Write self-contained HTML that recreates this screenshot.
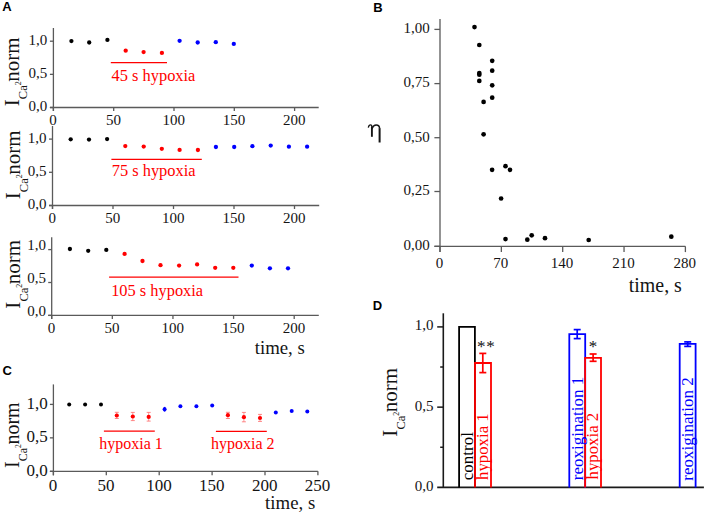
<!DOCTYPE html><html><head><meta charset="utf-8"><style>html,body{margin:0;padding:0;background:#fff;overflow:hidden}svg{display:block;}</style></head><body>
<svg width="708" height="517" viewBox="0 0 708 517" font-family="Liberation Serif, serif">
<rect width="708" height="517" fill="#fff"/>
<text x="2.2" y="11.4" font-family="Liberation Sans, sans-serif" font-weight="bold" font-size="13" fill="#000">A</text>
<text x="373.2" y="11.5" font-family="Liberation Sans, sans-serif" font-weight="bold" font-size="13" fill="#000">B</text>
<text x="2.6" y="374.6" font-family="Liberation Sans, sans-serif" font-weight="bold" font-size="13" fill="#000">C</text>
<text x="372.7" y="310.4" font-family="Liberation Sans, sans-serif" font-weight="bold" font-size="13" fill="#000">D</text>
<line x1="53.4" y1="28" x2="53.4" y2="111" stroke="#5a5a5a" stroke-width="1.3"/>
<line x1="49.9" y1="107.5" x2="318.7" y2="107.5" stroke="#5a5a5a" stroke-width="1.3"/>
<line x1="49.9" y1="107.5" x2="53.4" y2="107.5" stroke="#5a5a5a" stroke-width="1.3"/>
<text x="47.2" y="110.9" font-size="15" text-anchor="end" fill="#141414" >0,0</text>
<line x1="49.9" y1="74.35" x2="53.4" y2="74.35" stroke="#5a5a5a" stroke-width="1.3"/>
<text x="47.2" y="77.75" font-size="15" text-anchor="end" fill="#141414" >0,5</text>
<line x1="49.9" y1="41.2" x2="53.4" y2="41.2" stroke="#5a5a5a" stroke-width="1.3"/>
<text x="47.2" y="44.6" font-size="15" text-anchor="end" fill="#141414" >1,0</text>
<line x1="53.4" y1="107.5" x2="53.4" y2="111" stroke="#5a5a5a" stroke-width="1.3"/>
<text x="53.1" y="125.4" font-size="15" text-anchor="middle" fill="#141414" >0</text>
<line x1="113.7" y1="107.5" x2="113.7" y2="111" stroke="#5a5a5a" stroke-width="1.3"/>
<text x="113.4" y="125.4" font-size="15" text-anchor="middle" fill="#141414" >50</text>
<line x1="174" y1="107.5" x2="174" y2="111" stroke="#5a5a5a" stroke-width="1.3"/>
<text x="173.7" y="125.4" font-size="15" text-anchor="middle" fill="#141414" >100</text>
<line x1="234.3" y1="107.5" x2="234.3" y2="111" stroke="#5a5a5a" stroke-width="1.3"/>
<text x="234" y="125.4" font-size="15" text-anchor="middle" fill="#141414" >150</text>
<line x1="294.6" y1="107.5" x2="294.6" y2="111" stroke="#5a5a5a" stroke-width="1.3"/>
<text x="294.3" y="125.4" font-size="15" text-anchor="middle" fill="#141414" >200</text>
<line x1="52.5" y1="126" x2="52.5" y2="209" stroke="#5a5a5a" stroke-width="1.3"/>
<line x1="49" y1="205.5" x2="319.2" y2="205.5" stroke="#5a5a5a" stroke-width="1.3"/>
<line x1="49" y1="205.5" x2="52.5" y2="205.5" stroke="#5a5a5a" stroke-width="1.3"/>
<text x="46.4" y="208.9" font-size="15" text-anchor="end" fill="#141414" >0,0</text>
<line x1="49" y1="172.3" x2="52.5" y2="172.3" stroke="#5a5a5a" stroke-width="1.3"/>
<text x="46.4" y="175.7" font-size="15" text-anchor="end" fill="#141414" >0,5</text>
<line x1="49" y1="139.1" x2="52.5" y2="139.1" stroke="#5a5a5a" stroke-width="1.3"/>
<text x="46.4" y="142.5" font-size="15" text-anchor="end" fill="#141414" >1,0</text>
<line x1="52.5" y1="205.5" x2="52.5" y2="209" stroke="#5a5a5a" stroke-width="1.3"/>
<text x="52.2" y="223.4" font-size="15" text-anchor="middle" fill="#141414" >0</text>
<line x1="113" y1="205.5" x2="113" y2="209" stroke="#5a5a5a" stroke-width="1.3"/>
<text x="112.7" y="223.4" font-size="15" text-anchor="middle" fill="#141414" >50</text>
<line x1="173.5" y1="205.5" x2="173.5" y2="209" stroke="#5a5a5a" stroke-width="1.3"/>
<text x="173.2" y="223.4" font-size="15" text-anchor="middle" fill="#141414" >100</text>
<line x1="234" y1="205.5" x2="234" y2="209" stroke="#5a5a5a" stroke-width="1.3"/>
<text x="233.7" y="223.4" font-size="15" text-anchor="middle" fill="#141414" >150</text>
<line x1="294.5" y1="205.5" x2="294.5" y2="209" stroke="#5a5a5a" stroke-width="1.3"/>
<text x="294.2" y="223.4" font-size="15" text-anchor="middle" fill="#141414" >200</text>
<line x1="51.7" y1="237.2" x2="51.7" y2="318.9" stroke="#5a5a5a" stroke-width="1.3"/>
<line x1="48.2" y1="315.4" x2="318.8" y2="315.4" stroke="#5a5a5a" stroke-width="1.3"/>
<line x1="48.2" y1="315.4" x2="51.7" y2="315.4" stroke="#5a5a5a" stroke-width="1.3"/>
<text x="45.9" y="315.7" font-size="15" text-anchor="end" fill="#141414" >0,0</text>
<line x1="48.2" y1="282.5" x2="51.7" y2="282.5" stroke="#5a5a5a" stroke-width="1.3"/>
<text x="45.9" y="282.8" font-size="15" text-anchor="end" fill="#141414" >0,5</text>
<line x1="48.2" y1="249.6" x2="51.7" y2="249.6" stroke="#5a5a5a" stroke-width="1.3"/>
<text x="45.9" y="249.9" font-size="15" text-anchor="end" fill="#141414" >1,0</text>
<line x1="51.7" y1="315.4" x2="51.7" y2="318.9" stroke="#5a5a5a" stroke-width="1.3"/>
<text x="51.4" y="333.3" font-size="15" text-anchor="middle" fill="#141414" >0</text>
<line x1="112.32" y1="315.4" x2="112.32" y2="318.9" stroke="#5a5a5a" stroke-width="1.3"/>
<text x="112.02" y="333.3" font-size="15" text-anchor="middle" fill="#141414" >50</text>
<line x1="172.95" y1="315.4" x2="172.95" y2="318.9" stroke="#5a5a5a" stroke-width="1.3"/>
<text x="172.65" y="333.3" font-size="15" text-anchor="middle" fill="#141414" >100</text>
<line x1="233.57" y1="315.4" x2="233.57" y2="318.9" stroke="#5a5a5a" stroke-width="1.3"/>
<text x="233.27" y="333.3" font-size="15" text-anchor="middle" fill="#141414" >150</text>
<line x1="294.2" y1="315.4" x2="294.2" y2="318.9" stroke="#5a5a5a" stroke-width="1.3"/>
<text x="293.9" y="333.3" font-size="15" text-anchor="middle" fill="#141414" >200</text>
<circle cx="71.4" cy="41.1" r="2.15" fill="#000"/>
<circle cx="89.2" cy="42.5" r="2.15" fill="#000"/>
<circle cx="107.4" cy="39.9" r="2.15" fill="#000"/>
<circle cx="125.7" cy="50.7" r="2.15" fill="#ff0000"/>
<circle cx="143.6" cy="52.1" r="2.15" fill="#ff0000"/>
<circle cx="161.9" cy="52.9" r="2.15" fill="#ff0000"/>
<circle cx="179.6" cy="40.8" r="2.15" fill="#0000ff"/>
<circle cx="197.7" cy="42.5" r="2.15" fill="#0000ff"/>
<circle cx="215.8" cy="42.2" r="2.15" fill="#0000ff"/>
<circle cx="233.8" cy="43.9" r="2.15" fill="#0000ff"/>
<circle cx="70.7" cy="139.3" r="2.15" fill="#000"/>
<circle cx="89" cy="139.6" r="2.15" fill="#000"/>
<circle cx="107.1" cy="139.1" r="2.15" fill="#000"/>
<circle cx="125.3" cy="146.1" r="2.15" fill="#ff0000"/>
<circle cx="143.7" cy="146.6" r="2.15" fill="#ff0000"/>
<circle cx="161.8" cy="148.8" r="2.15" fill="#ff0000"/>
<circle cx="179.6" cy="149.9" r="2.15" fill="#ff0000"/>
<circle cx="197.9" cy="150" r="2.15" fill="#ff0000"/>
<circle cx="215.9" cy="147" r="2.15" fill="#0000ff"/>
<circle cx="234.2" cy="147" r="2.15" fill="#0000ff"/>
<circle cx="252.4" cy="146.2" r="2.15" fill="#0000ff"/>
<circle cx="270.7" cy="145.6" r="2.15" fill="#0000ff"/>
<circle cx="288.9" cy="146.7" r="2.15" fill="#0000ff"/>
<circle cx="307.1" cy="146.7" r="2.15" fill="#0000ff"/>
<circle cx="69.9" cy="249" r="2.15" fill="#000"/>
<circle cx="88.2" cy="250.8" r="2.15" fill="#000"/>
<circle cx="106.3" cy="249.9" r="2.15" fill="#000"/>
<circle cx="124.6" cy="253.9" r="2.15" fill="#ff0000"/>
<circle cx="142.5" cy="261" r="2.15" fill="#ff0000"/>
<circle cx="160.5" cy="265.2" r="2.15" fill="#ff0000"/>
<circle cx="179.1" cy="265.6" r="2.15" fill="#ff0000"/>
<circle cx="197.1" cy="264.4" r="2.15" fill="#ff0000"/>
<circle cx="215.2" cy="267.8" r="2.15" fill="#ff0000"/>
<circle cx="233.3" cy="267.8" r="2.15" fill="#ff0000"/>
<circle cx="251.8" cy="265.6" r="2.15" fill="#0000ff"/>
<circle cx="269.9" cy="268.3" r="2.15" fill="#0000ff"/>
<circle cx="288" cy="268.3" r="2.15" fill="#0000ff"/>
<line x1="110.8" y1="62.6" x2="167" y2="62.6" stroke="#ff0000" stroke-width="1.3"/>
<text x="111.58" y="80.6" font-size="16.4" text-anchor="start" fill="#ff0000" >45 s hypoxia</text>
<line x1="111.4" y1="159.4" x2="201.8" y2="159.4" stroke="#ff0000" stroke-width="1.3"/>
<text x="111.72" y="176.4" font-size="16.4" text-anchor="start" fill="#ff0000" >75 s hypoxia</text>
<line x1="109.1" y1="277.1" x2="238.5" y2="277.1" stroke="#ff0000" stroke-width="1.3"/>
<text x="111.16" y="295.7" font-size="16.4" text-anchor="start" fill="#ff0000" >105 s hypoxia</text>
<text transform="translate(18.5,106.36) rotate(-90)" font-size="21" fill="#141414">I</text>
<text transform="translate(26.7,99.21) rotate(-90)" font-size="12.5" fill="#141414">Ca</text>
<text transform="translate(20.5,85.25) rotate(-90)" font-size="8.0" fill="#141414">2</text>
<text transform="translate(18.7,81.78) rotate(-90)" font-size="21" fill="#141414">norm</text>
<text transform="translate(20.2,199.36) rotate(-90)" font-size="21" fill="#141414">I</text>
<text transform="translate(28.4,192.21) rotate(-90)" font-size="12.5" fill="#141414">Ca</text>
<text transform="translate(22.2,178.25) rotate(-90)" font-size="8.0" fill="#141414">2</text>
<text transform="translate(20.4,174.78) rotate(-90)" font-size="21" fill="#141414">norm</text>
<text transform="translate(19.6,308.76) rotate(-90)" font-size="21" fill="#141414">I</text>
<text transform="translate(27.8,301.61) rotate(-90)" font-size="12.5" fill="#141414">Ca</text>
<text transform="translate(21.6,287.65) rotate(-90)" font-size="8.0" fill="#141414">2</text>
<text transform="translate(19.8,284.18) rotate(-90)" font-size="21" fill="#141414">norm</text>
<text x="254.72" y="353.5" font-size="18.8" text-anchor="start" fill="#141414" >time, s</text>
<line x1="440" y1="18.9" x2="440" y2="252.1" stroke="#5a5a5a" stroke-width="1.3"/>
<line x1="434.4" y1="246.3" x2="685.4" y2="246.3" stroke="#5a5a5a" stroke-width="1.3"/>
<line x1="434.4" y1="29.4" x2="440" y2="29.4" stroke="#5a5a5a" stroke-width="1.3"/>
<text x="429.7" y="33.2" font-size="15" text-anchor="end" fill="#141414" >1,00</text>
<line x1="434.4" y1="83.6" x2="440" y2="83.6" stroke="#5a5a5a" stroke-width="1.3"/>
<text x="429.7" y="87.4" font-size="15" text-anchor="end" fill="#141414" >0,75</text>
<line x1="434.4" y1="137.7" x2="440" y2="137.7" stroke="#5a5a5a" stroke-width="1.3"/>
<text x="429.7" y="141.5" font-size="15" text-anchor="end" fill="#141414" >0,50</text>
<line x1="434.4" y1="191.5" x2="440" y2="191.5" stroke="#5a5a5a" stroke-width="1.3"/>
<text x="429.7" y="195.3" font-size="15" text-anchor="end" fill="#141414" >0,25</text>
<line x1="434.4" y1="246.3" x2="440" y2="246.3" stroke="#5a5a5a" stroke-width="1.3"/>
<text x="429.7" y="250.1" font-size="15" text-anchor="end" fill="#141414" >0,00</text>
<line x1="440" y1="246.3" x2="440" y2="252.1" stroke="#5a5a5a" stroke-width="1.3"/>
<text x="439.4" y="268.1" font-size="15" text-anchor="middle" fill="#141414" >0</text>
<line x1="501.35" y1="246.3" x2="501.35" y2="252.1" stroke="#5a5a5a" stroke-width="1.3"/>
<text x="500.75" y="268.1" font-size="15" text-anchor="middle" fill="#141414" >70</text>
<line x1="562.7" y1="246.3" x2="562.7" y2="252.1" stroke="#5a5a5a" stroke-width="1.3"/>
<text x="562.1" y="268.1" font-size="15" text-anchor="middle" fill="#141414" >140</text>
<line x1="624.04" y1="246.3" x2="624.04" y2="252.1" stroke="#5a5a5a" stroke-width="1.3"/>
<text x="623.44" y="268.1" font-size="15" text-anchor="middle" fill="#141414" >210</text>
<line x1="685.39" y1="246.3" x2="685.39" y2="252.1" stroke="#5a5a5a" stroke-width="1.3"/>
<text x="684.79" y="268.1" font-size="15" text-anchor="middle" fill="#141414" >280</text>
<circle cx="474.5" cy="27.1" r="2.35" fill="#000"/>
<circle cx="479.3" cy="45" r="2.35" fill="#000"/>
<circle cx="492.2" cy="60.8" r="2.35" fill="#000"/>
<circle cx="492.2" cy="70.7" r="2.35" fill="#000"/>
<circle cx="479.3" cy="73" r="2.35" fill="#000"/>
<circle cx="479.3" cy="74.7" r="2.35" fill="#000"/>
<circle cx="479.3" cy="80.9" r="2.35" fill="#000"/>
<circle cx="492.2" cy="85.3" r="2.35" fill="#000"/>
<circle cx="492.2" cy="97.7" r="2.35" fill="#000"/>
<circle cx="483.6" cy="101.9" r="2.35" fill="#000"/>
<circle cx="483.6" cy="134.3" r="2.35" fill="#000"/>
<circle cx="492.1" cy="169.8" r="2.35" fill="#000"/>
<circle cx="505.5" cy="166.2" r="2.35" fill="#000"/>
<circle cx="510" cy="169.8" r="2.35" fill="#000"/>
<circle cx="501.1" cy="198.5" r="2.35" fill="#000"/>
<circle cx="505.5" cy="239.1" r="2.35" fill="#000"/>
<circle cx="527.3" cy="239.7" r="2.35" fill="#000"/>
<circle cx="531.7" cy="235.3" r="2.35" fill="#000"/>
<circle cx="545" cy="238.2" r="2.35" fill="#000"/>
<circle cx="588.7" cy="240" r="2.35" fill="#000"/>
<circle cx="671.3" cy="236.7" r="2.35" fill="#000"/>
<g fill="none" stroke="#151515">
<path d="M368.3 127.6 C368.7 125.8 369.6 124.9 370.5 124.9 C371.4 124.9 371.9 125.6 371.9 127" stroke-width="1.35"/>
<path d="M371.9 126.6 V136.8" stroke-width="1.9"/>
<path d="M371.9 128.6 C373 126.1 374.4 124.9 376.1 124.9 C378.4 124.9 379.6 126.3 379.6 128.6" stroke-width="1.45"/>
<path d="M379.6 128.2 V142.5" stroke-width="2.0"/>
</g>
<text x="628.81" y="291.9" font-size="19.9" text-anchor="start" fill="#141414" >time, s</text>
<line x1="53.4" y1="384.4" x2="53.4" y2="475.3" stroke="#5a5a5a" stroke-width="1.3"/>
<line x1="49.9" y1="471.3" x2="317.9" y2="471.3" stroke="#5a5a5a" stroke-width="1.3"/>
<line x1="49.9" y1="471.3" x2="53.4" y2="471.3" stroke="#5a5a5a" stroke-width="1.3"/>
<text x="47.7" y="475.8" font-size="17" text-anchor="end" fill="#141414" >0,0</text>
<line x1="49.9" y1="437.85" x2="53.4" y2="437.85" stroke="#5a5a5a" stroke-width="1.3"/>
<text x="47.7" y="442.35" font-size="17" text-anchor="end" fill="#141414" >0,5</text>
<line x1="49.9" y1="404.4" x2="53.4" y2="404.4" stroke="#5a5a5a" stroke-width="1.3"/>
<text x="47.7" y="408.9" font-size="17" text-anchor="end" fill="#141414" >1,0</text>
<line x1="53.4" y1="471.3" x2="53.4" y2="475.3" stroke="#5a5a5a" stroke-width="1.3"/>
<text x="53.1" y="490.5" font-size="17" text-anchor="middle" fill="#141414" >0</text>
<line x1="106.3" y1="471.3" x2="106.3" y2="475.3" stroke="#5a5a5a" stroke-width="1.3"/>
<text x="106" y="490.5" font-size="17" text-anchor="middle" fill="#141414" >50</text>
<line x1="159.2" y1="471.3" x2="159.2" y2="475.3" stroke="#5a5a5a" stroke-width="1.3"/>
<text x="158.9" y="490.5" font-size="17" text-anchor="middle" fill="#141414" >100</text>
<line x1="212.1" y1="471.3" x2="212.1" y2="475.3" stroke="#5a5a5a" stroke-width="1.3"/>
<text x="211.8" y="490.5" font-size="17" text-anchor="middle" fill="#141414" >150</text>
<line x1="265" y1="471.3" x2="265" y2="475.3" stroke="#5a5a5a" stroke-width="1.3"/>
<text x="264.7" y="490.5" font-size="17" text-anchor="middle" fill="#141414" >200</text>
<line x1="317.9" y1="471.3" x2="317.9" y2="475.3" stroke="#5a5a5a" stroke-width="1.3"/>
<text x="317.6" y="490.5" font-size="17" text-anchor="middle" fill="#141414" >250</text>
<circle cx="69.2" cy="404.5" r="2.0" fill="#000"/>
<circle cx="85.1" cy="404.5" r="2.0" fill="#000"/>
<circle cx="101" cy="404.5" r="2.0" fill="#000"/>
<circle cx="164.6" cy="409.2" r="2.0" fill="#0000ff"/>
<circle cx="180.4" cy="406.3" r="2.0" fill="#0000ff"/>
<circle cx="196.4" cy="406.2" r="2.0" fill="#0000ff"/>
<circle cx="212.2" cy="405.6" r="2.0" fill="#0000ff"/>
<circle cx="275.8" cy="412.5" r="2.0" fill="#0000ff"/>
<circle cx="291.7" cy="411.1" r="2.0" fill="#0000ff"/>
<circle cx="307.3" cy="411.5" r="2.0" fill="#0000ff"/>
<line x1="164.6" y1="406.9" x2="164.6" y2="411.6" stroke="#0000ff" stroke-width="1.6"/>
<line x1="116.8" y1="412.3" x2="116.8" y2="418.5" stroke="#ff6a6a" stroke-width="0.7"/>
<line x1="114.8" y1="412.3" x2="118.8" y2="412.3" stroke="#ff6a6a" stroke-width="0.8"/>
<line x1="114.8" y1="418.5" x2="118.8" y2="418.5" stroke="#ff6a6a" stroke-width="0.8"/>
<circle cx="116.8" cy="415.5" r="2.1" fill="#ff0000"/>
<line x1="132.8" y1="412.4" x2="132.8" y2="420.6" stroke="#ff6a6a" stroke-width="0.7"/>
<line x1="130.8" y1="412.4" x2="134.8" y2="412.4" stroke="#ff6a6a" stroke-width="0.8"/>
<line x1="130.8" y1="420.6" x2="134.8" y2="420.6" stroke="#ff6a6a" stroke-width="0.8"/>
<circle cx="132.8" cy="416.5" r="2.1" fill="#ff0000"/>
<line x1="148.7" y1="412.4" x2="148.7" y2="421.1" stroke="#ff6a6a" stroke-width="0.7"/>
<line x1="146.7" y1="412.4" x2="150.7" y2="412.4" stroke="#ff6a6a" stroke-width="0.8"/>
<line x1="146.7" y1="421.1" x2="150.7" y2="421.1" stroke="#ff6a6a" stroke-width="0.8"/>
<circle cx="148.7" cy="416.9" r="2.1" fill="#ff0000"/>
<line x1="227.9" y1="412.3" x2="227.9" y2="418.5" stroke="#ff6a6a" stroke-width="0.7"/>
<line x1="225.9" y1="412.3" x2="229.9" y2="412.3" stroke="#ff6a6a" stroke-width="0.8"/>
<line x1="225.9" y1="418.5" x2="229.9" y2="418.5" stroke="#ff6a6a" stroke-width="0.8"/>
<circle cx="227.9" cy="415.2" r="2.1" fill="#ff0000"/>
<line x1="243.9" y1="412.4" x2="243.9" y2="421.8" stroke="#ff6a6a" stroke-width="0.7"/>
<line x1="241.9" y1="412.4" x2="245.9" y2="412.4" stroke="#ff6a6a" stroke-width="0.8"/>
<line x1="241.9" y1="421.8" x2="245.9" y2="421.8" stroke="#ff6a6a" stroke-width="0.8"/>
<circle cx="243.9" cy="417.2" r="2.1" fill="#ff0000"/>
<line x1="260" y1="414.4" x2="260" y2="421.4" stroke="#ff6a6a" stroke-width="0.7"/>
<line x1="258" y1="414.4" x2="262" y2="414.4" stroke="#ff6a6a" stroke-width="0.8"/>
<line x1="258" y1="421.4" x2="262" y2="421.4" stroke="#ff6a6a" stroke-width="0.8"/>
<circle cx="260" cy="418" r="2.1" fill="#ff0000"/>
<line x1="103.9" y1="431.1" x2="154.8" y2="431.1" stroke="#ff0000" stroke-width="1.3"/>
<text x="99.24" y="448.7" font-size="16" text-anchor="start" fill="#ff0000" >hypoxia 1</text>
<line x1="215.9" y1="431.4" x2="266.8" y2="431.4" stroke="#ff0000" stroke-width="1.3"/>
<text x="210.94" y="448.9" font-size="16" text-anchor="start" fill="#ff0000" >hypoxia 2</text>
<text transform="translate(18.8,468.02) rotate(-90)" font-size="20" fill="#141414">I</text>
<text transform="translate(26.61,461.22) rotate(-90)" font-size="11.904761904761903" fill="#141414">Ca</text>
<text transform="translate(20.7,447.92) rotate(-90)" font-size="7.619047619047619" fill="#141414">2</text>
<text transform="translate(18.99,444.62) rotate(-90)" font-size="20" fill="#141414">norm</text>
<text x="265.12" y="509.4" font-size="18.8" text-anchor="start" fill="#141414" >time, s</text>
<line x1="443.3" y1="313.3" x2="443.3" y2="487.4" stroke="#1a1a1a" stroke-width="1.6"/>
<line x1="437.2" y1="487.4" x2="703.9" y2="487.4" stroke="#1a1a1a" stroke-width="1.6"/>
<line x1="437.2" y1="326.9" x2="443.3" y2="326.9" stroke="#1a1a1a" stroke-width="1.5"/>
<line x1="437.2" y1="407.15" x2="443.3" y2="407.15" stroke="#1a1a1a" stroke-width="1.5"/>
<line x1="440.2" y1="367.02" x2="443.3" y2="367.02" stroke="#1a1a1a" stroke-width="1.5"/>
<line x1="440.2" y1="447.27" x2="443.3" y2="447.27" stroke="#1a1a1a" stroke-width="1.5"/>
<text x="433.6" y="490.9" font-size="15" text-anchor="end" fill="#141414" >0,0</text>
<text x="433.6" y="410.65" font-size="15" text-anchor="end" fill="#141414" >0,5</text>
<text x="433.6" y="330.4" font-size="15" text-anchor="end" fill="#141414" >1,0</text>
<path d="M459.1 487.4 V326.9 H474.9 V487.4" fill="none" stroke="#000" stroke-width="1.8"/>
<path d="M475.0 487.4 V363.0 H491.0 V487.4" fill="none" stroke="#ff0000" stroke-width="1.8"/>
<line x1="482.8" y1="353.4" x2="482.8" y2="372.6" stroke="#ff0000" stroke-width="1.7"/>
<line x1="479.3" y1="353.4" x2="486.3" y2="353.4" stroke="#ff0000" stroke-width="1.7"/>
<line x1="479.3" y1="372.6" x2="486.3" y2="372.6" stroke="#ff0000" stroke-width="1.7"/>
<path d="M569.3 487.4 V334.2 H585.2 V487.4" fill="none" stroke="#0000ff" stroke-width="1.8"/>
<line x1="577.2" y1="329.6" x2="577.2" y2="338.6" stroke="#0000ff" stroke-width="1.7"/>
<line x1="573.7" y1="329.6" x2="580.7" y2="329.6" stroke="#0000ff" stroke-width="1.7"/>
<line x1="573.7" y1="338.6" x2="580.7" y2="338.6" stroke="#0000ff" stroke-width="1.7"/>
<path d="M585.1 487.4 V357.8 H601.0 V487.4" fill="none" stroke="#ff0000" stroke-width="1.8"/>
<line x1="593.1" y1="354" x2="593.1" y2="361.3" stroke="#ff0000" stroke-width="1.7"/>
<line x1="589.6" y1="354" x2="596.6" y2="354" stroke="#ff0000" stroke-width="1.7"/>
<line x1="589.6" y1="361.3" x2="596.6" y2="361.3" stroke="#ff0000" stroke-width="1.7"/>
<path d="M679.7 487.4 V343.9 H695.6 V487.4" fill="none" stroke="#0000ff" stroke-width="1.8"/>
<line x1="687.7" y1="341.9" x2="687.7" y2="346.4" stroke="#0000ff" stroke-width="1.7"/>
<line x1="684.2" y1="341.9" x2="691.2" y2="341.9" stroke="#0000ff" stroke-width="1.7"/>
<line x1="684.2" y1="346.4" x2="691.2" y2="346.4" stroke="#0000ff" stroke-width="1.7"/>
<text x="476.9" y="351.6" font-size="17" text-anchor="start" fill="#111" >*</text>
<text x="486.2" y="351.6" font-size="17" text-anchor="start" fill="#111" >*</text>
<text x="588.8" y="351.6" font-size="17" text-anchor="start" fill="#111" >*</text>
<text transform="translate(472.5,480.25) rotate(-90)" font-size="17" fill="#000">control</text>
<text transform="translate(488.3,479.96) rotate(-90)" font-size="16.8" fill="#ff0000">hypoxia 1</text>
<text transform="translate(582.9,480.14) rotate(-90)" font-size="17" fill="#0000ff">reoxigination 1</text>
<text transform="translate(597.9,479.46) rotate(-90)" font-size="16.8" fill="#ff0000">hypoxia 2</text>
<text transform="translate(693.2,480.64) rotate(-90)" font-size="17" fill="#0000ff">reoxigination 2</text>
<text transform="translate(396.6,436.76) rotate(-90)" font-size="21" fill="#141414">I</text>
<text transform="translate(404.8,429.61) rotate(-90)" font-size="12.5" fill="#141414">Ca</text>
<text transform="translate(398.6,415.65) rotate(-90)" font-size="8.0" fill="#141414">2</text>
<text transform="translate(396.8,412.18) rotate(-90)" font-size="21" fill="#141414">norm</text>
</svg></body></html>
